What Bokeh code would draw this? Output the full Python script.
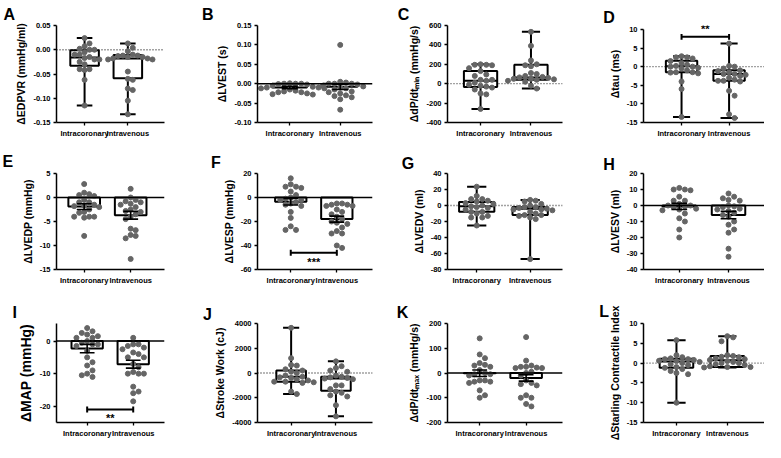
import numpy as np
from bokeh.plotting import figure
from bokeh.layouts import gridplot
from bokeh.models import FixedTicker, Label, Span, NumeralTickFormatter
from bokeh.embed import file_html
from bokeh.resources import INLINE

categories = ["Intracoronary", "Intravenous"]

# A: EDPVR (box: min, q1, median, q3, max)
edpvr_ic = [0.024, 0.013, 0.007, 0.002, 0.0, 0.0, -0.005, -0.010, -0.010, -0.015, -0.017, -0.020, -0.020, -0.025, -0.030, -0.040, -0.042, -0.040, -0.062, -0.115]
edpvr_iv = [0.013, 0.004, -0.003, -0.010, -0.012, -0.012, -0.013, -0.015, -0.015, -0.018, -0.018, -0.020, -0.020, -0.045, -0.060, -0.062, -0.080, -0.083, -0.105, -0.133]
edpvr_box_ic = [-0.115, -0.033, -0.016, -0.001, 0.024]
edpvr_box_iv = [-0.133, -0.059, -0.018, -0.011, 0.013]
edpvr_ticks = [-0.15, -0.10, -0.05, 0.00, 0.05]

# B: LVEST (bar: mean, sem)
lvest_ic = [0.001, 0.0, 0.0, 0.0, -0.001, -0.002, -0.005, -0.008, -0.010, -0.010, -0.012, -0.012, -0.015, -0.018, -0.020, -0.022, -0.022, -0.025, -0.027, -0.028]
lvest_iv = [0.100, 0.005, 0.003, 0.0, 0.0, 0.0, -0.002, -0.005, -0.007, -0.010, -0.012, -0.015, -0.020, -0.022, -0.025, -0.030, -0.032, -0.035, -0.040, -0.067]
lvest_mean = [-0.010, -0.008]
lvest_sem = [0.003, 0.007]
lvest_ticks = [-0.10, -0.05, 0.00, 0.05, 0.10, 0.15]

# C: dP/dt min (box)
dpdtmin_ic = [200, 195, 195, 190, 160, 130, 95, 80, 40, 40, 30, 10, -10, -20, -30, -40, -60, -100, -110, -260]
dpdtmin_iv = [535, 390, 240, 200, 190, 180, 110, 100, 80, 70, 65, 60, 50, 50, 45, 40, 30, 20, -20, -50]
dpdtmin_box_ic = [-260, -35, 30, 130, 200]
dpdtmin_box_iv = [-50, 40, 65, 195, 535]
dpdtmin_ticks = [-400, -200, 0, 200, 400, 600]

# D: tau (box)
tau_ic = [2.8, 2.5, 2.5, 2.2, 1.5, 1.0, 0.5, 0.2, 0.0, 0.0, -0.3, -0.5, -1.0, -1.5, -1.5, -1.6, -1.8, -4.0, -6.0, -13.5]
tau_iv = [6.2, 0.2, 0.0, -0.5, -1.0, -1.2, -1.5, -2.0, -2.0, -2.2, -2.5, -3.0, -3.5, -3.8, -3.8, -4.0, -6.5, -7.8, -12.8, -13.8]
tau_box_ic = [-13.5, -1.5, 0.1, 1.6, 2.8]
tau_box_iv = [-13.8, -3.8, -2.0, -1.0, 6.2]
tau_ticks = [-15, -10, -5, 0, 5, 10]

# E: LVEDP (bar)
lvedp_ic = [2.8, 1.0, 0.7, 0.5, 0.3, -0.5, -1.0, -1.0, -1.5, -1.7, -2.0, -2.5, -3.0, -3.2, -4.0, -4.0, -4.0, -4.2, -8.0, -1.8]
lvedp_iv = [1.8, 0.0, -0.5, -0.8, -1.0, -1.3, -1.5, -2.0, -2.5, -2.8, -3.0, -3.5, -4.0, -4.5, -6.5, -6.8, -7.8, -8.0, -8.5, -12.8]
lvedp_mean = [-1.9, -3.7]
lvedp_sem = [0.6, 0.8]
lvedp_ticks = [-15, -10, -5, 0, 5]

# F: LVESP (bar)
lvesp_ic = [16, 11, 9, 9, 8, 5, 2, 0, -1, -2, -2, -4, -5, -6, -7, -12, -17, -24, -27, -27]
lvesp_iv = [-5, -5, -6, -6, -7, -7, -10, -12, -14, -16, -18, -20, -21, -22, -25, -28, -30, -30, -40, -42]
lvesp_mean = [-3.5, -18.0]
lvesp_sem = [2.8, 2.5]
lvesp_ticks = [-60, -40, -20, 0, 20]

# G: LVEDV (box)
lvedv_ic = [23.5, 12, 8, 8, 6, 5, 3, 2, 0, -1, -2, -3, -5, -8, -8, -10, -13, -15, -15, -25]
lvedv_iv = [7, 6, 5, 2, 0, -2, -2, -3, -4, -5, -5, -6, -8, -10, -12, -12, -13, -15, -17, -67]
lvedv_box_ic = [-25, -7.8, -0.8, 4.3, 23.5]
lvedv_box_iv = [-67, -12, -4, -2, 7]
lvedv_ticks = [-80, -60, -40, -20, 0, 20, 40]

# H: LVESV (bar)
lvesv_ic = [11, 10, 10, 9.5, 5.5, 3, 3, 1, 0, 0, -0.5, -1, -2, -2.5, -3, -5, -8, -10, -15, -20]
lvesv_iv = [7.5, 5.5, 4.5, 3.5, 3, 0, -0.5, -1, -2, -2.5, -3.5, -4.5, -6, -7, -10, -12, -15, -17, -27, -32]
lvesv_mean = [-0.6, -6.0]
lvesv_sem = [1.9, 2.3]
lvesv_ticks = [-40, -30, -20, -10, 0, 10, 20]

# I: MAP (bar)
map_ic = [4, 3, 2.5, 2, 1.5, 1, 1, 0, -0.5, -1, -1, -1.5, -3, -5, -6.5, -7.5, -9, -10, -10.5, -11]
map_iv = [1, -1, -1, -1.5, -2, -2.5, -3.5, -4, -5, -5, -7, -8, -9.5, -10, -10, -10, -14, -15.5, -16, -18.5]
map_mean = [-2.3, -7.1]
map_sem = [1.3, 1.2]
map_ticks = [-20, -10, 0]

# J: Stroke work (box)
sw_ic = [3650, 1200, 650, 600, 300, 200, 100, 0, -200, -300, -350, -400, -500, -600, -700, -700, -750, -800, -1500, -1700]
sw_iv = [940, 550, 400, 200, 100, -200, -300, -350, -400, -450, -500, -1000, -1000, -1300, -1500, -1600, -1800, -1900, -2600, -3500]
sw_box_ic = [-1700, -700, -310, 210, 3650]
sw_box_iv = [-3500, -1440, -450, -310, 940]
sw_ticks = [-4000, -2000, 0, 2000, 4000]

# K: dP/dt max (bar)
dpdtmax_ic = [140, 75, 60, 40, 33, 30, 25, 12, 0, -5, -5, -10, -30, -30, -35, -35, -40, -70, -90, -100]
dpdtmax_iv = [145, 50, 30, 25, 25, 22, 20, 20, 5, 0, -10, -30, -40, -45, -50, -90, -100, -100, -125, -135]
dpdtmax_mean = [-1, -20]
dpdtmax_sem = [13, 13]
dpdtmax_ticks = [-200, -100, 0, 100, 200]

# L: Starling contractile index (box)
sci_ic = [5.8, 2.0, 1.5, 1.2, 1.0, 1.0, 0.8, 0.6, 0.5, 0.3, 0.0, -0.3, -0.5, -1.0, -1.2, -1.5, -2.0, -2.5, -2.8, -10]
sci_iv = [6.8, 6.5, 5.5, 2.0, 1.8, 1.6, 1.5, 1.2, 1.0, 0.8, 0.5, 0.3, 0.0, 0.0, -0.3, -0.5, -0.8, -1.0, -1.0, -1.1]
sci_box_ic = [-10, -1.2, 0.4, 1.1, 5.8]
sci_box_iv = [-1.1, -1.0, 0.7, 1.8, 6.8]
sci_ticks = [-15, -10, -5, 0, 5, 10]

# significance brackets: (y of bracket, text, stars above/below)
tau_sig = [8.0, "**", "above"]
lvesp_sig = [-46.0, "***", "below"]
map_sig = [-21.0, "**", "below"]

# ---------------- layout (reference-pixel geometry) ----------------
SX = 764 / 781
SY = 442 / 458
COLW = 191
ROWY = [0, 147, 294]
ROWH = [147, 147, 148]
FONT = "Liberation Sans"
PT_COLOR = "#656565"

panels = [
    dict(letter="A", ylabel="ΔEDPVR (mmHg/ml)", kind="box", ic=edpvr_ic, iv=edpvr_iv, s1=edpvr_box_ic, s2=edpvr_box_iv,
         ticks=edpvr_ticks, fmt="0.00", geom=(57, 187, 24, 126, 91, 143), lx=3, gap=9, lfs="10.5px"),
    dict(letter="B", ylabel="ΔLVEST (s)", kind="bar", ic=lvest_ic, iv=lvest_iv, s1=lvest_mean, s2=lvest_sem,
         ticks=lvest_ticks, fmt="0.00", geom=(262, 380, 23, 127, 295, 347), lx=205, gap=9, lfs="10.5px"),
    dict(letter="C", ylabel="ΔdP/dtₘᵢₙ (mmHg/s)", kind="box", ic=dpdtmin_ic, iv=dpdtmin_iv, s1=dpdtmin_box_ic, s2=dpdtmin_box_iv,
         ticks=dpdtmin_ticks, fmt="0", geom=(456, 575, 23, 126, 490, 542), lx=405, gap=8, lfs="10.5px"),
    dict(letter="D", ylabel="Δtau (ms)", kind="box", ic=tau_ic, iv=tau_iv, s1=tau_box_ic, s2=tau_box_iv,
         ticks=tau_ticks, fmt="0", geom=(651, 781, 24, 126, 692, 743), lx=610, gap=2, lfs="10.5px", sig=tau_sig,
         top_border=19),
    dict(letter="E", ylabel="ΔLVEDP (mmHg)", kind="bar", ic=lvedp_ic, iv=lvedp_iv, s1=lvedp_mean, s2=lvedp_sem,
         ticks=lvedp_ticks, fmt="0", geom=(57, 185, 178, 279, 90, 145), lx=2, gap=10, lfs="10.5px"),
    dict(letter="F", ylabel="ΔLVESP (mmHg)", kind="bar", ic=lvesp_ic, iv=lvesp_iv, s1=lvesp_mean, s2=lvesp_sem,
         ticks=lvesp_ticks, fmt="0", geom=(250, 380, 177, 279, 288, 340), lx=203, gap=9, lfs="10.5px", sig=lvesp_sig),
    dict(letter="G", ylabel="ΔLVEDV (ml)", kind="box", ic=lvedv_ic, iv=lvedv_iv, s1=lvedv_box_ic, s2=lvedv_box_iv,
         ticks=lvedv_ticks, fmt="0", geom=(452, 575, 177, 279, 483, 540), lx=405, gap=7, lfs="10.5px"),
    dict(letter="H", ylabel="ΔLVESV (ml)", kind="bar", ic=lvesv_ic, iv=lvesv_iv, s1=lvesv_mean, s2=lvesv_sem,
         ticks=lvesv_ticks, fmt="0", geom=(653, 781, 177, 279, 691, 743), lx=612, gap=5, lfs="10.5px"),
    dict(letter="I", ylabel="ΔMAP (mmHg)", kind="bar", ic=map_ic, iv=map_iv, s1=map_mean, s2=map_sem,
         ticks=map_ticks, fmt="0", geom=(48, 168, 333, 437, 82, 133), lx=3, gap=8, lfs="14px", sig=map_sig,
         yr=(-25, 5.4)),
    dict(letter="J", ylabel="ΔStroke Work (cJ)", kind="box", ic=sw_ic, iv=sw_iv, s1=sw_box_ic, s2=sw_box_iv,
         ticks=sw_ticks, fmt="0", geom=(263, 383, 335, 437, 298, 345), lx=207, gap=5, lfs="10.5px"),
    dict(letter="K", ylabel="ΔdP/dtₘₐₓ (mmHg/s)", kind="bar", ic=dpdtmax_ic, iv=dpdtmax_iv, s1=dpdtmax_mean, s2=dpdtmax_sem,
         ticks=dpdtmax_ticks, fmt="0", geom=(457, 587, 334, 437, 493, 545), lx=405, gap=9, lfs="10.5px"),
    dict(letter="L", ylabel="ΔStarling Contractile Index", kind="box", ic=sci_ic, iv=sci_iv, s1=sci_box_ic, s2=sci_box_iv,
         ticks=sci_ticks, fmt="0", geom=(657, 781, 334, 437, 691, 743), lx=612, gap=11, lfs="10.5px"),
]


def swarm(vals, ppu_y, ppu_x, d=5.8):
    vals = np.asarray(vals, dtype=float)
    order = np.argsort(-vals)
    placed = []
    xs = np.zeros(len(vals))
    cands = [0.0]
    for j in range(1, 12):
        cands += [j * d, -j * d]
    for i in order:
        y = vals[i] * ppu_y
        best = cands[-1]
        for c in cands:
            if all((c - px) ** 2 + (y - py) ** 2 >= (d * 0.98) ** 2 for px, py in placed):
                best = c
                break
        placed.append((best, y))
        xs[i] = best / ppu_x
    return xs


def make(spec, r, c):
    L, R, T, B, c1, c2 = spec["geom"]
    Lp = L * SX - COLW * c
    Rp = min(R * SX - COLW * c, COLW)
    c1p = c1 * SX - COLW * c
    c2p = c2 * SX - COLW * c
    Tp = T * SY - ROWY[r]
    Bp = B * SY - ROWY[r]
    H = ROWH[r]
    bl = int(round(Lp)); br = COLW - int(round(Rp))
    bb = H - int(round(Bp))
    ticks = spec["ticks"]
    ylo, yhi = spec.get("yr", (ticks[0], ticks[-1]))
    ppu_y = (round(Bp) - Tp) / (yhi - ylo)
    if "top_border" in spec:
        bt = spec["top_border"]
        yhi_frame = yhi + (Tp - bt) / ppu_y
    else:
        bt = int(round(Tp))
        yhi_frame = yhi
    d = c2p - c1p
    x0 = 1 - (c1p - bl) / d
    x1 = 1 + (COLW - br - c1p) / d
    ppu_x = d

    p = figure(width=COLW, height=H, x_range=(x0, x1), y_range=(ylo, yhi_frame),
               output_backend="svg", toolbar_location=None,
               min_border_left=bl, min_border_right=br, min_border_top=bt, min_border_bottom=bb)
    p.outline_line_color = None
    p.xgrid.visible = False
    p.ygrid.visible = False
    p.background_fill_color = "white"

    # panel letter as title
    p.title.text = spec["letter"]
    p.title.align = "left"
    p.title.offset = (spec["lx"] * SX - COLW * c) - bl
    p.title.standoff = max(spec["gap"] - 3, 0)
    p.title.text_font = FONT
    p.title.text_font_style = "bold"
    p.title.text_font_size = "16px"
    p.title.text_color = "black"

    xs = [1, 2]
    if spec["kind"] == "box":
        p.add_layout(Span(location=0, dimension="width", line_color="#444444",
                          line_width=1.3, line_dash="1 2", level="underlay"))
        for x, st in zip(xs, [spec["s1"], spec["s2"]]):
            lo, q1, med, q3, hi = st
            p.segment(x0=[x, x], y0=[q3, q1], x1=[x, x], y1=[hi, lo], line_color="black", line_width=2)
            p.segment(x0=[x - 0.18, x - 0.18], x1=[x + 0.18, x + 0.18], y0=[hi, lo], y1=[hi, lo],
                      line_color="black", line_width=2)
            p.vbar(x=[x], width=0.66, bottom=[q1], top=[q3], fill_color="white",
                   line_color="black", line_width=2)
            p.segment(x0=[x - 0.33], x1=[x + 0.33], y0=[med], y1=[med], line_color="black", line_width=2)
        for x, vals in zip(xs, [spec["ic"], spec["iv"]]):
            off = swarm(vals, ppu_y, ppu_x)
            p.scatter(x=list(x + off), y=vals, size=5, fill_color=PT_COLOR, line_color=PT_COLOR)
    else:
        means, sems = spec["s1"], spec["s2"]
        p.vbar(x=xs, width=0.68, bottom=means, top=[0, 0], fill_color="white",
               line_color="black", line_width=2)
        for x, vals in zip(xs, [spec["ic"], spec["iv"]]):
            off = swarm(vals, ppu_y, ppu_x)
            p.scatter(x=list(x + off), y=vals, size=5, fill_color=PT_COLOR, line_color=PT_COLOR)
        for x, m, s in zip(xs, means, sems):
            p.segment(x0=[x], x1=[x], y0=[m - s], y1=[m + s], line_color="black", line_width=1.6)
            p.segment(x0=[x - 0.16, x - 0.16], x1=[x + 0.16, x + 0.16], y0=[m - s, m + s], y1=[m - s, m + s],
                      line_color="black", line_width=1.6)
        p.add_layout(Span(location=0, dimension="width", line_color="black", line_width=1.5))

    if "sig" in spec:
        yb, txt, where = spec["sig"]
        dy = 3.0 / ppu_y
        p.segment(x0=[1], x1=[2], y0=[yb], y1=[yb], line_color="black", line_width=2)
        p.segment(x0=[1, 2], x1=[1, 2], y0=[yb - dy, yb - dy], y1=[yb + dy, yb + dy],
                  line_color="black", line_width=2)
        if where == "above":
            ys = yb + 8.0 / ppu_y
            base = "middle"
        else:
            ys = yb - 3.0 / ppu_y
            base = "top"
        p.add_layout(Label(x=1.5, y=ys, text=txt, text_align="center", text_baseline=base,
                           text_font=FONT, text_font_style="bold", text_font_size="11px", text_color="black"))

    # axes
    p.xaxis.ticker = FixedTicker(ticks=[1, 2])
    p.xaxis.major_label_overrides = {1: categories[0], 2: categories[1]}
    p.yaxis.ticker = FixedTicker(ticks=ticks)
    p.yaxis.formatter = NumeralTickFormatter(format=spec["fmt"])
    p.yaxis.bounds = (ylo, yhi)
    for ax in (p.xaxis, p.yaxis):
        ax.axis_line_width = 1.5
        ax.axis_line_color = "black"
        ax.major_tick_line_width = 1.3
        ax.major_tick_line_color = "black"
        ax.major_tick_out = 3
        ax.major_tick_in = 0
        ax.minor_tick_line_color = None
        ax.major_label_text_font = FONT
        ax.major_label_text_font_style = "bold"
        ax.major_label_text_color = "black"
        ax.major_label_standoff = 3
    p.xaxis.major_label_text_font_size = "7.5px"
    p.yaxis.major_label_text_font_size = "7.5px"
    p.yaxis.axis_label = spec["ylabel"]
    p.yaxis.axis_label_text_font = FONT
    p.yaxis.axis_label_text_font_style = "bold"
    p.yaxis.axis_label_text_font_size = spec["lfs"]
    p.yaxis.axis_label_text_color = "black"
    p.yaxis.axis_label_standoff = 3
    return p


rows = []
for r in range(3):
    row = []
    for c in range(4):
        row.append(make(panels[r * 4 + c], r, c))
    rows.append(row)

grid = gridplot(rows, toolbar_location=None)
open("out.html", "w").write(file_html(grid, INLINE))
